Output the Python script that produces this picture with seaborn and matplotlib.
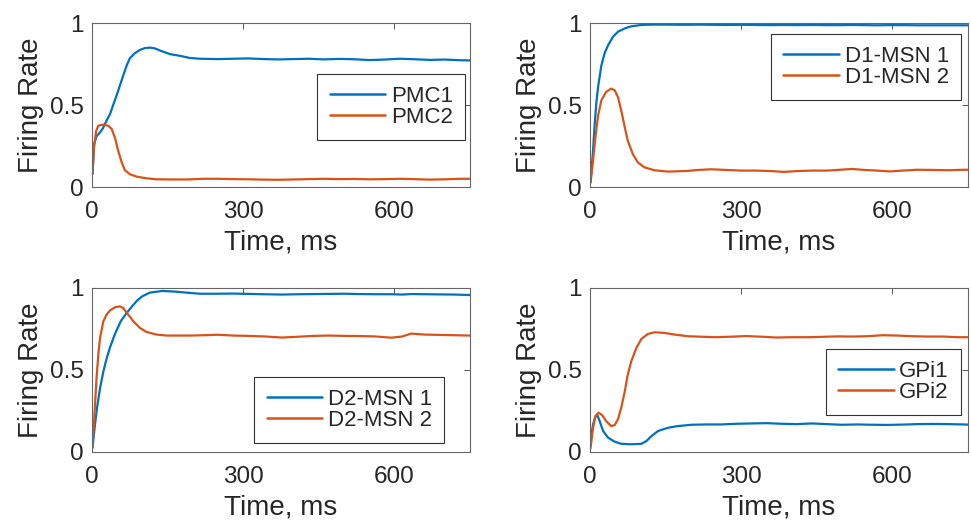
import numpy as np
import pandas as pd
import matplotlib
matplotlib.use("Agg")
import matplotlib.pyplot as plt
import seaborn as sns

# ---------------- data ----------------
t_pmc1 = [1, 4, 9, 16, 22, 29, 36, 42, 49, 55.5, 62, 69, 75, 85, 95, 105, 115, 125, 135, 155,
          174, 194, 214, 250, 280, 310, 340, 370, 400, 430, 460, 490, 520, 550, 580, 610, 640,
          670, 700, 730, 750]
pmc1 = [0.08, 0.26, 0.31, 0.333, 0.36, 0.405, 0.446, 0.50, 0.56, 0.62, 0.68, 0.742, 0.785,
        0.816, 0.836, 0.847, 0.85, 0.845, 0.832, 0.81, 0.80, 0.787, 0.782, 0.78, 0.782, 0.784,
        0.78, 0.778, 0.78, 0.782, 0.778, 0.781, 0.779, 0.774, 0.777, 0.782, 0.779, 0.775,
        0.777, 0.773, 0.772]
t_pmc2 = [1, 4, 8, 12.5, 22, 32, 39, 45.6, 52, 59, 65, 75, 89, 108, 128, 160, 190, 220, 250,
          280, 310, 340, 370, 400, 430, 460, 490, 520, 550, 580, 610, 640, 670, 700, 730, 750]
pmc2 = [0.08, 0.24, 0.34, 0.374, 0.38, 0.374, 0.354, 0.30, 0.22, 0.15, 0.104, 0.078, 0.063,
        0.053, 0.047, 0.046, 0.046, 0.05, 0.05, 0.048, 0.047, 0.045, 0.044, 0.046, 0.048, 0.05,
        0.048, 0.049, 0.047, 0.048, 0.05, 0.048, 0.045, 0.047, 0.05, 0.05]

t_d1a = [1, 6, 9, 12.5, 16, 22.5, 29, 36, 45.6, 55.5, 69, 82, 102, 122, 150, 190, 215, 240,
         270, 300, 330, 360, 385, 410, 440, 470, 500, 520, 545, 570, 595, 620, 650, 680, 710,
         740, 750]
d1_1 = [0.027, 0.22, 0.37, 0.51, 0.61, 0.74, 0.816, 0.865, 0.916, 0.947, 0.967, 0.98, 0.988,
        0.99, 0.99, 0.989, 0.99, 0.989, 0.988, 0.989, 0.988, 0.987, 0.988, 0.987, 0.988, 0.987,
        0.987, 0.988, 0.987, 0.986, 0.987, 0.987, 0.986, 0.986, 0.986, 0.986, 0.986]
t_d1b = [1, 6, 10.6, 16, 22.5, 32, 42, 49, 55.5, 62, 69, 75, 85, 95, 108, 128, 155, 194, 215,
         240, 270, 300, 330, 360, 385, 410, 440, 470, 500, 520, 545, 570, 595, 620, 650, 680,
         710, 740, 750]
d1_2 = [0.027, 0.16, 0.30, 0.435, 0.528, 0.58, 0.60, 0.59, 0.548, 0.466, 0.364, 0.282, 0.20,
        0.15, 0.12, 0.102, 0.094, 0.098, 0.104, 0.108, 0.104, 0.10, 0.10, 0.097, 0.092, 0.097,
        0.10, 0.10, 0.106, 0.11, 0.104, 0.10, 0.095, 0.10, 0.105, 0.104, 0.102, 0.105, 0.105]

t_d2a = [1, 6, 10, 16, 22.5, 29, 36, 45.6, 57.5, 69, 80, 90, 100, 115, 140, 165, 194, 214, 250,
         280, 310, 340, 377, 410, 440, 470, 500, 530, 560, 594, 615, 633, 660, 690, 720, 750]
d2_1 = [0.026, 0.17, 0.27, 0.39, 0.49, 0.57, 0.64, 0.72, 0.80, 0.848, 0.89, 0.925, 0.95, 0.972,
        0.982, 0.978, 0.97, 0.965, 0.965, 0.966, 0.964, 0.962, 0.96, 0.962, 0.963, 0.964,
        0.965, 0.963, 0.962, 0.962, 0.96, 0.963, 0.962, 0.961, 0.96, 0.957]
t_d2b = [1, 6, 9, 12.5, 16, 22.5, 29, 36, 45.6, 55.5, 62, 69, 72, 82, 95, 108, 128, 148, 194,
         220, 250, 280, 310, 340, 377, 410, 440, 470, 500, 530, 560, 594, 615, 633, 660, 690,
         720, 750]
d2_2 = [0.026, 0.29, 0.45, 0.594, 0.696, 0.797, 0.838, 0.864, 0.882, 0.888, 0.878, 0.848,
        0.838, 0.797, 0.757, 0.732, 0.716, 0.71, 0.71, 0.712, 0.715, 0.71, 0.708, 0.705, 0.698,
        0.703, 0.708, 0.71, 0.708, 0.707, 0.705, 0.697, 0.704, 0.722, 0.716, 0.714, 0.712,
        0.71]

t_g1 = [1, 6, 10.6, 14.5, 19, 26, 36, 49, 62, 82, 102, 112, 122, 135, 155, 174, 201, 230, 260,
        290, 320, 350, 380, 410, 440, 470, 500, 530, 560, 590, 620, 650, 680, 710, 740, 750]
gpi1 = [0.067, 0.168, 0.213, 0.225, 0.19, 0.128, 0.087, 0.063, 0.05, 0.047, 0.05, 0.067,
        0.097, 0.128, 0.148, 0.158, 0.166, 0.168, 0.168, 0.172, 0.174, 0.176, 0.172, 0.17,
        0.174, 0.17, 0.166, 0.168, 0.166, 0.165, 0.167, 0.17, 0.171, 0.17, 0.168, 0.167]
t_g2 = [1, 6, 10.6, 17, 24, 32, 42, 49, 55.5, 62, 69, 75, 82, 92, 102, 115, 128, 148, 168, 194,
        220, 250, 280, 310, 340, 370, 400, 430, 460, 490, 520, 550, 580, 610, 640, 670, 700,
        730, 750]
gpi2 = [0.022, 0.148, 0.219, 0.24, 0.225, 0.189, 0.158, 0.164, 0.20, 0.27, 0.37, 0.473, 0.554,
        0.635, 0.69, 0.72, 0.73, 0.726, 0.716, 0.706, 0.703, 0.70, 0.703, 0.707, 0.703, 0.698,
        0.70, 0.70, 0.702, 0.705, 0.704, 0.706, 0.712, 0.71, 0.706, 0.704, 0.704, 0.70, 0.70]

panels = [
    ((t_pmc1, pmc1, "PMC1"), (t_pmc2, pmc2, "PMC2")),
    ((t_d1a, d1_1, "D1-MSN 1"), (t_d1b, d1_2, "D1-MSN 2")),
    ((t_d2a, d2_1, "D2-MSN 1"), (t_d2b, d2_2, "D2-MSN 2")),
    ((t_g1, gpi1, "GPi1"), (t_g2, gpi2, "GPi2")),
]
x_ticks = [0, 300, 600]
y_ticks = [0, 0.5, 1]
y_ticklabels = ["0", "0.5", "1"]

# ---------------- styling ----------------
sns.set_style("white")
plt.rcParams["font.family"] = ["Liberation Sans", "DejaVu Sans"]
blue, orange = "#0072BD", "#D95319"
txt = "#262626"

W, H = 971, 524
fig = plt.figure(figsize=(W / 100, H / 100), dpi=100)

lefts = [92, 590, 92, 590]
tops = [23, 23, 288, 288]
aw, ah = 378, 164
leg_anchor = [(465, 74), (961, 34), (444, 377), (961, 349)]

for i, (s1, s2) in enumerate(panels):
    ax = fig.add_axes([lefts[i] / W, 1 - (tops[i] + ah) / H, aw / W, ah / H])
    df = pd.DataFrame({"t": list(s1[0]) + list(s2[0]),
                       "v": list(s1[1]) + list(s2[1]),
                       "s": [s1[2]] * len(s1[0]) + [s2[2]] * len(s2[0])})
    sns.lineplot(data=df, x="t", y="v", hue="s", palette=[blue, orange],
                 linewidth=1.6, ax=ax, legend=True)
    ax.set_xlim(0, 750)
    ax.set_ylim(0, 1)
    ax.set_xticks(x_ticks)
    ax.set_yticks(y_ticks)
    ax.set_yticklabels(y_ticklabels)
    ax.tick_params(direction="in", length=4, width=0.7, top=True, right=True,
                   labelsize=17.5, labelcolor=txt, color="#555555")
    ax.tick_params(axis="x", pad=10)
    ax.tick_params(axis="y", pad=6)
    for sp in ax.spines.values():
        sp.set_color("#666666")
        sp.set_linewidth(0.8)
        sp.set_visible(True)
    ax.set_xlabel("Time, ms", fontsize=20, color=txt, labelpad=5)
    ax.set_ylabel("Firing Rate", fontsize=20, color=txt, labelpad=4)
    lx, ly = leg_anchor[i]
    leg = ax.legend(loc="upper right", bbox_to_anchor=(lx / W, 1 - ly / H),
                    bbox_transform=fig.transFigure, borderaxespad=0,
                    fontsize=16, frameon=True, fancybox=False, framealpha=1,
                    edgecolor="#333333", handlelength=2.5, handletextpad=0.25,
                    labelspacing=0.0, borderpad=0.55, title=None)
    leg.get_frame().set_linewidth(0.8)
    for line in leg.get_lines():
        line.set_linewidth(1.8)
    for tx in leg.get_texts():
        tx.set_color(txt)

fig.savefig("out.png", dpi=100)
